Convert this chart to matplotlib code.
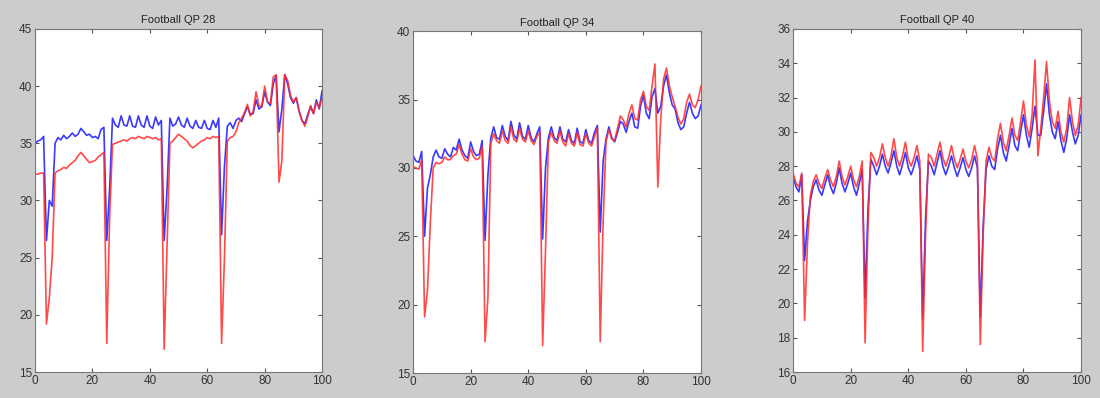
import numpy as np
import matplotlib
matplotlib.use("Agg")
import matplotlib.pyplot as plt

plt.rcParams['font.family'] = ['Liberation Sans', 'DejaVu Sans']

frames = np.arange(0, 101)

# Football QP 28
blue_28 = [35.0, 35.2, 35.3, 35.6, 26.5, 30.0, 29.5, 35.0, 35.5, 35.3,
           35.7, 35.4, 35.6, 35.9, 35.6, 35.8, 36.3, 36.0, 35.7, 35.8,
           35.5, 35.6, 35.4, 36.2, 36.4, 26.5, 31.0, 37.2, 36.6, 36.4,
           37.4, 36.6, 36.5, 37.4, 36.5, 36.4, 37.4, 36.6, 36.4, 37.4,
           36.5, 36.3, 37.3, 36.6, 37.0, 26.5, 31.0, 37.2, 36.5, 36.7,
           37.3, 36.6, 36.4, 37.2, 36.5, 36.3, 37.0, 36.4, 36.3, 37.0,
           36.3, 36.2, 37.0, 36.4, 37.2, 27.0, 33.0, 36.5, 36.8, 36.3,
           37.0, 37.2, 36.9, 37.6, 38.2, 37.5, 37.6, 38.8, 38.0, 38.2,
           39.5, 38.6, 38.3, 40.2, 40.9, 36.0, 38.0, 41.0, 40.2, 39.0,
           38.5, 39.0, 37.8, 37.0, 36.7, 37.5, 38.2, 37.6, 38.8, 38.0,
           39.6]
red_28 = [32.3, 32.3, 32.4, 32.4, 19.2, 21.5, 25.0, 32.4, 32.6, 32.7,
          32.9, 32.8, 33.1, 33.3, 33.5, 33.9, 34.2, 33.9, 33.6, 33.3,
          33.4, 33.5, 33.8, 34.0, 34.2, 17.5, 28.5, 34.9, 35.0, 35.1,
          35.2, 35.3, 35.2, 35.4, 35.5, 35.4, 35.6, 35.5, 35.4, 35.6,
          35.5, 35.4, 35.5, 35.3, 35.4, 17.0, 26.0, 35.0, 35.2, 35.5,
          35.8, 35.6, 35.4, 35.2, 34.8, 34.6, 34.8, 35.0, 35.2, 35.3,
          35.5, 35.4, 35.6, 35.5, 35.6, 17.5, 25.0, 35.2, 35.5, 35.6,
          36.0, 36.8, 37.2, 37.7, 38.4, 37.4, 37.8, 39.5, 38.3, 38.2,
          40.0, 38.6, 38.5, 40.8, 41.0, 31.6, 33.5, 41.0, 40.5, 39.2,
          38.6, 39.0, 37.8, 37.0, 36.5, 37.3, 38.3, 37.6, 38.6, 38.1,
          39.0]

# Football QP 34
blue_34 = [30.9, 30.5, 30.4, 31.2, 25.0, 28.5, 29.5, 30.8, 31.3, 30.8,
           30.7, 31.4, 31.0, 30.8, 31.5, 31.3, 32.1, 31.3, 30.9, 30.7,
           31.9, 31.2, 30.9, 31.0, 32.0, 24.7, 29.5, 32.2, 33.0, 32.2,
           32.1, 33.1, 32.3, 32.0, 33.4, 32.4, 32.1, 33.3, 32.3, 32.1,
           33.1, 32.2, 31.9, 32.5, 33.0, 24.8, 30.0, 32.2, 33.0, 32.2,
           32.0, 33.0, 32.1, 31.9, 32.8, 32.0, 31.8, 32.9, 31.9, 31.8,
           32.8, 32.0, 31.8, 32.6, 33.1, 25.3, 30.5, 32.1, 33.0, 32.2,
           31.9, 32.6, 33.4, 33.2, 32.6, 33.4, 34.0, 33.0, 32.9, 34.5,
           35.3, 34.0, 33.6, 35.2, 35.8, 34.0, 34.5, 36.0, 36.8, 35.5,
           34.6, 34.3, 33.3, 32.8, 33.0, 34.0, 34.8, 34.0, 33.6, 33.8,
           34.6]
red_34 = [30.1, 30.0, 29.9, 30.6, 19.1, 21.0, 26.0, 30.0, 30.4, 30.3,
          30.4, 30.8, 30.6, 30.6, 30.9, 31.0, 31.7, 31.0, 30.6, 30.5,
          31.4, 30.8, 30.6, 30.7, 31.6, 17.3, 20.5, 31.8, 32.5, 32.0,
          31.8, 32.7, 32.0, 31.8, 33.0, 32.1, 31.9, 32.9, 32.1, 31.9,
          32.7, 32.0, 31.7, 32.3, 32.6, 17.0, 24.0, 31.9, 32.6, 32.0,
          31.8, 32.7, 31.9, 31.6, 32.5, 31.8, 31.6, 32.6, 31.7, 31.6,
          32.5, 31.8, 31.6, 32.3, 32.9, 17.3, 26.0, 31.9, 32.8, 32.1,
          32.0, 32.9, 33.8, 33.5, 33.0, 34.0, 34.6, 33.6, 33.5, 35.0,
          35.6, 34.5, 34.2, 36.0, 37.6, 28.6, 33.5, 36.5, 37.3, 36.0,
          35.2, 34.5, 33.7, 33.2, 33.6, 34.8, 35.4, 34.6, 34.4, 35.0,
          36.0]

# Football QP 40
blue_40 = [27.4, 26.8, 26.5, 27.5, 22.5, 24.8, 26.0, 26.8, 27.2, 26.6,
           26.3, 26.9, 27.5, 26.8, 26.4, 27.0, 27.9, 27.0, 26.5, 27.0,
           27.6, 26.8, 26.3, 27.0, 27.8, 20.3, 25.5, 28.4, 28.0, 27.5,
           28.0, 28.7, 28.0, 27.6, 28.2, 28.9, 28.0, 27.5, 28.1, 28.8,
           27.9, 27.5, 28.0, 28.6, 27.8, 19.1, 25.0, 28.3, 28.0, 27.5,
           28.2, 28.9, 28.0, 27.5, 28.0, 28.6, 27.9, 27.4, 27.9, 28.5,
           27.8, 27.4, 27.9, 28.6, 27.9, 19.2, 24.5, 27.8, 28.6, 28.0,
           27.8, 29.0, 29.8, 28.8, 28.3, 29.2, 30.2, 29.2, 28.9, 30.0,
           31.0, 29.8, 29.1, 30.2, 31.5, 29.8, 29.8, 31.2, 32.8, 31.0,
           30.0, 29.6, 30.6, 29.5, 28.8, 29.6, 31.0, 30.0, 29.3, 29.8,
           31.0]
red_40 = [27.6, 27.0, 26.8, 27.6, 19.0, 23.5, 26.3, 27.1, 27.5, 27.0,
          26.7, 27.3, 27.8, 27.2, 26.8, 27.4, 28.3, 27.4, 26.9, 27.4,
          28.0, 27.2, 26.8, 27.4, 28.3, 17.7, 24.5, 28.8, 28.5, 28.0,
          28.5, 29.3, 28.5, 28.0, 28.6, 29.6, 28.5, 28.0, 28.6, 29.4,
          28.4, 28.0, 28.5, 29.2, 28.3, 17.2, 24.0, 28.7, 28.5, 28.0,
          28.7, 29.4, 28.5, 28.0, 28.5, 29.2, 28.4, 27.9, 28.4, 29.0,
          28.3, 27.9, 28.4, 29.2, 28.4, 17.6, 24.0, 28.3, 29.1, 28.5,
          28.3, 29.6, 30.5, 29.4, 28.9, 29.8, 30.8, 29.8, 29.5, 30.6,
          31.8, 30.4, 29.7, 31.0, 34.2, 28.6, 30.2, 32.0, 34.1, 31.8,
          30.6, 30.2, 31.2, 30.0, 29.4, 30.2, 32.0, 30.6, 29.8, 30.4,
          32.0]

titles = ['Football QP 28', 'Football QP 34', 'Football QP 40']
blues = [blue_28, blue_34, blue_40]
reds = [red_28, red_34, red_40]
ylims = [(15, 45), (15, 40), (16, 36)]
ysteps = [5, 5, 2]

fig = plt.figure(figsize=(11, 3.98), dpi=100, facecolor='#cccccc')
positions = [[0.0318, 0.0653, 0.261, 0.862],
             [0.3755, 0.0628, 0.2618, 0.859],
             [0.721, 0.0653, 0.2618, 0.862]]

for i in range(3):
    ax = fig.add_axes(positions[i])
    ax.set_facecolor('white')
    ax.plot(frames, blues[i], color='#3a3aff', lw=1.2)
    ax.plot(frames, reds[i], color='#ff2a2a', lw=1.2, alpha=0.85)
    ax.set_xlim(0, 100)
    ax.set_ylim(*ylims[i])
    ax.set_xticks(np.arange(0, 101, 20))
    ax.set_yticks(np.arange(ylims[i][0], ylims[i][1] + 0.1, ysteps[i]))
    ax.tick_params(direction='in', top=True, right=True, length=3,
                   labelsize=8.5, colors='#555555', labelcolor='#333333', pad=2)
    for s in ax.spines.values():
        s.set_color('#777777')
    ax.set_title(titles[i], fontsize=8, color='#222222', pad=4)

fig.savefig('out.png', dpi=100, facecolor=fig.get_facecolor())
